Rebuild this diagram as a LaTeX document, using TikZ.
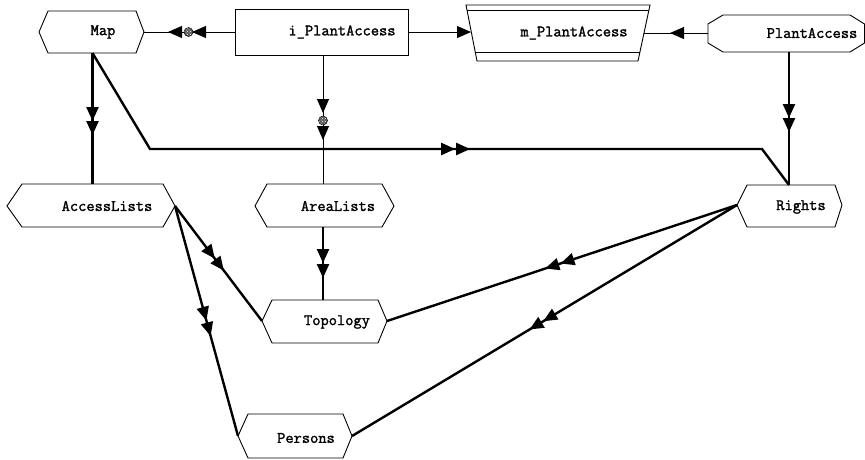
\documentclass[tikz,border=0pt]{standalone}
\usepackage{fontspec}
\newfontfamily\lbltt[FakeBold=1.6]{Latin Modern Mono}
\usetikzlibrary{arrows.meta,decorations.markings,patterns}
\tikzset{
  Hd/.tip={Triangle[length=14pt,width=12pt]},
  shp/.style={draw, line width=0.9pt, line join=miter},
  lbl/.style={font=\lbltt\fontsize{16}{16}\selectfont, inner sep=0pt, anchor=center},
  thinc/.style={line width=0.9pt},
  thickc/.style={line width=2.4pt},
  sgl/.style={postaction={decorate}, decoration={markings, mark=at position #1 with {\arrow{Hd}}}},
  dbl/.style 2 args={postaction={decorate}, decoration={markings,
      mark=at position #1 with {\arrow{Hd}},
      mark=at position #2 with {\arrow{Hd}}}},
  chk/.style n args={3}{postaction={decorate}, decoration={markings,
      mark=at position #1 with {\arrow{Hd}},
      mark=at position #2 with {\filldraw[line width=0.5pt, fill=black!65] (0,0) circle[radius=4.5pt];
                                \fill[pattern=crosshatch dots, pattern color=white] (0,0) circle[radius=4pt];},
      mark=at position #3 with {\arrow{Hd}}}},
}
\begin{document}
\begin{tikzpicture}[x=1pt,y=-1pt]
\useasboundingbox (0,0) rectangle (865,459);

% Map
\draw[shp] (39,32)--(48,11)--(136,11)--(144,32)--(136,53)--(48,53)--cycle;
\node[lbl] (map) at (103,32) {Map};
\coordinate (map-r) at (144,32);
\coordinate (map-b) at (92.5,53);

% i_PlantAccess
\draw[shp] (235,9) rectangle (408,55);
\node[lbl] (ipa) at (342,32) {i\_PlantAccess};
\coordinate (ipa-l) at (235,32);
\coordinate (ipa-r) at (408,32);
\coordinate (ipa-b) at (323,55);

% m_PlantAccess
\draw[shp] (466,5)--(650,5)--(638,61)--(477,61)--cycle;
\draw[shp] (467,10)--(649,10);
\draw[shp] (475,52)--(640,52);
\node[lbl] (mpa) at (574,33) {m\_PlantAccess};
\coordinate (mpa-l) at (471,32);
\coordinate (mpa-r) at (644,33);

% PlantAccess
\draw[shp] (708,24)--(723,15)--(850,15)--(864.5,24)--(864.5,43)--(850,52)--(723,52)--(708,43)--cycle;
\node[lbl] (pa) at (812,33) {PlantAccess};
\coordinate (pa-l) at (708,33);
\coordinate (pa-b) at (789,52);

% AccessLists
\draw[shp] (7,206)--(22,184)--(163,184)--(175,206)--(163,227)--(22,227)--cycle;
\node[lbl] (al) at (107,206) {AccessLists};
\coordinate (al-t) at (92.5,184);
\coordinate (al-r) at (175,206);

% AreaLists
\draw[shp] (255,206)--(267,184)--(382,184)--(394,206)--(382,227)--(267,227)--cycle;
\node[lbl] (ar) at (338,206) {AreaLists};
\coordinate (ar-t) at (323,184);
\coordinate (ar-b) at (323,227);

% Rights
\draw[shp] (737,205)--(747,185)--(835,185)--(842,205)--(835,227)--(747,227)--cycle;
\node[lbl] (ri) at (801,207) {Rights};
\coordinate (ri-t) at (789,185);
\coordinate (ri-l) at (737,205);

% Topology
\draw[shp] (262,321)--(272,300)--(378,300)--(387,321)--(378,343)--(272,343)--cycle;
\node[lbl] (to) at (337,322) {Topology};
\coordinate (to-t) at (323,300);
\coordinate (to-l) at (262,321);
\coordinate (to-r) at (387,321);

% Persons
\draw[shp] (238,436)--(248,414)--(343,414)--(352,436)--(343,458)--(248,458)--cycle;
\node[lbl] (pe) at (306,438) {Persons};
\coordinate (pe-l) at (238,436);
\coordinate (pe-r) at (352,436);

% bends
\coordinate (bendA) at (150,149);
\coordinate (bendB) at (762,149);

% connectors
\draw[thinc, chk={43pt}{46.5pt}{67pt}] (ipa-l) -- (map-r);
\draw[thinc, chk={58pt}{65.5pt}{85pt}] (ipa-b) -- (ar-t);
\draw[thinc, -{Hd}] (ipa-r) -- (mpa-l);
\draw[thinc, sgl=38pt] (pa-l) -- (mpa-r);
\draw[thickc, dbl={66pt}{80pt}] (pa-b) -- (ri-t);
\draw[thickc, dbl={68pt}{82pt}] (map-b) -- (al-t);
\draw[thickc, line join=miter, dbl={417pt}{432pt}] (map-b) -- (bendA) -- (bendB) -- (ri-t);
\draw[thickc, dbl={66pt}{81pt}] (al-r) -- (to-l);
\draw[thickc, dbl={119pt}{135pt}] (al-r) -- (pe-l);
\draw[thickc, dbl={186pt}{202pt}] (ri-l) -- (to-r);
\draw[thickc, dbl={226pt}{242pt}] (ri-l) -- (pe-r);
\draw[thickc, dbl={36pt}{51pt}] (ar-b) -- (to-t);
\end{tikzpicture}
\end{document}
